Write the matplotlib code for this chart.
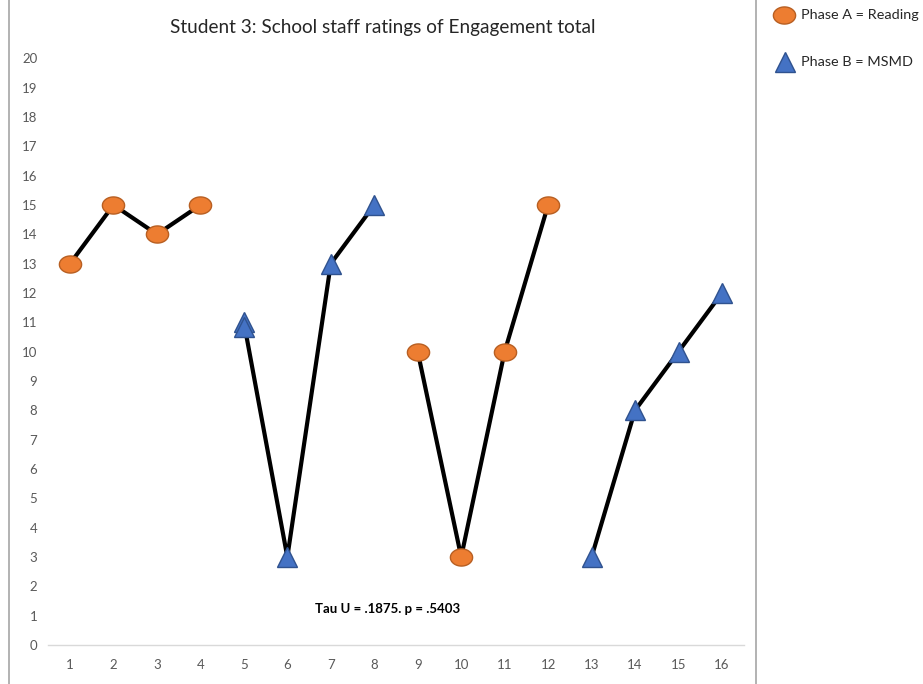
import numpy as np
import matplotlib
matplotlib.use("Agg")
import matplotlib.pyplot as plt
from matplotlib.path import Path
from matplotlib.lines import Line2D

plt.rcParams['font.family'] = ['Lato', 'DejaVu Sans']

# session numbers and ratings, one list per phase block
a1_x = [1, 2, 3, 4]
a1_y = [13, 15, 14, 15]
b1_x = [5, 6, 7, 8]
b1_y = [11, 3, 13, 15]
a2_x = [9, 10, 11, 12]
a2_y = [10, 3, 10, 15]
b2_x = [13, 14, 15, 16]
b2_y = [3, 8, 10, 12]
# the doubled triangle drawn at session 5
extra_b_x = [5]
extra_b_y = [10.85]

x_ticks = list(range(1, 17))
y_ticks = list(range(0, 21))

title = "Student 3: School staff ratings of Engagement total"
note = "Tau U = .1875. p = .5403"
label_a = "Phase A = Reading"
label_b = "Phase B = MSMD"

orange = "#ED7D31"
orange_edge = "#B85F22"
blue = "#4472C4"
blue_edge = "#2F528F"
tick_grey = "#595959"

# ellipse marker, wider than tall
t = np.linspace(0, 2 * np.pi, 60)
ellipse = Path(np.column_stack([np.cos(t), 0.77 * np.sin(t)]), closed=True)

fig = plt.figure(figsize=(9.23, 6.84), dpi=100)
W, H = 923, 684
ax = fig.add_axes([48.3 / W, 1 - 645 / H, 695.4 / W, 586.7 / H])

for xs, ys in [(a1_x, a1_y), (a2_x, a2_y)]:
    ax.plot(xs, ys, color="black", lw=3, zorder=2)
    ax.plot(xs, ys, ls="none", marker=ellipse, ms=16, mfc=orange, mec=orange_edge, mew=1, zorder=3)
for xs, ys in [(b1_x, b1_y), (b2_x, b2_y)]:
    ax.plot(xs, ys, color="black", lw=3, zorder=2)
    ax.plot(xs, ys, ls="none", marker="^", ms=15, mfc=blue, mec=blue_edge, mew=1, zorder=3)
ax.plot(extra_b_x, extra_b_y, ls="none", marker="^", ms=15, mfc=blue, mec=blue_edge, mew=1, zorder=3)

ax.set_xlim(0.5, 16.5)
ax.set_ylim(0, 20)
ax.set_xticks(x_ticks)
ax.set_yticks(y_ticks)
ax.tick_params(length=0, labelsize=9.5, colors=tick_grey)
ax.tick_params(axis="y", pad=8)
ax.tick_params(axis="x", pad=10)
for s in ["top", "right", "left"]:
    ax.spines[s].set_visible(False)
ax.spines["bottom"].set_color("#D9D9D9")
ax.spines["bottom"].set_linewidth(1)

ax.text(8.31, 1.23, note, ha="center", va="center", fontsize=9.5, fontweight="bold", color="black")

fig.text(383 / W, 1 - 28 / H, title, ha="center", va="center", fontsize=13.7, color="#262626")

# chart area borders
fig.add_artist(Line2D([9 / W, 9 / W], [0, 1], color="#A6A6A6", lw=1.2))
fig.add_artist(Line2D([756 / W, 756 / W], [0, 1], color="#A6A6A6", lw=1.2))

# legend, drawn by hand to the right of the chart
fig.add_artist(Line2D([784 / W], [1 - 15 / H], ls="none", marker=ellipse, ms=16,
                      mfc=orange, mec=orange_edge, mew=1))
fig.add_artist(Line2D([785 / W], [1 - 62 / H], ls="none", marker="^", ms=15,
                      mfc=blue, mec=blue_edge, mew=1))
fig.text(801 / W, 1 - 15 / H, label_a, ha="left", va="center", fontsize=10.4, color="#262626")
fig.text(801 / W, 1 - 62 / H, label_b, ha="left", va="center", fontsize=10.4, color="#262626")

fig.savefig("out.png", dpi=100)
